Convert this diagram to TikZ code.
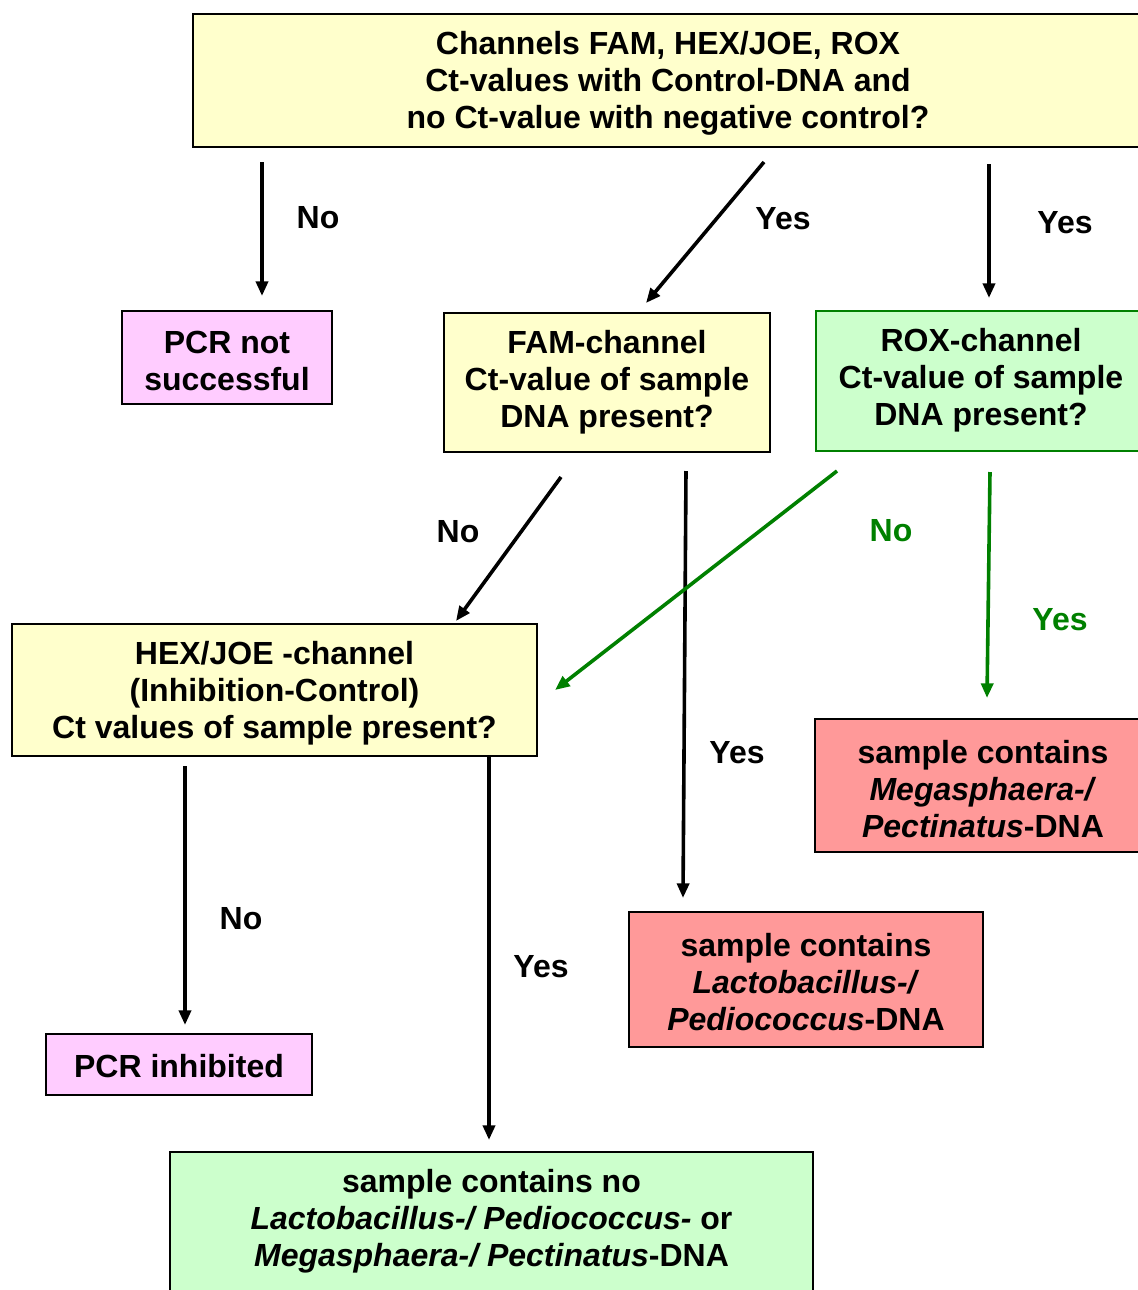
\documentclass[tikz,border=0pt]{standalone}
\usepackage{fontspec}
\setmainfont{Liberation Sans}
\usetikzlibrary{arrows.meta}
\definecolor{ylw}{HTML}{FFFFCC}
\definecolor{pnk}{HTML}{FFCCFF}
\definecolor{grn}{HTML}{CCFFCC}
\definecolor{red}{HTML}{FF9999}
\definecolor{dgreen}{HTML}{008000}
\tikzset{
  box/.style={draw=black, line width=1.5, inner sep=0pt, rectangle},
  txt/.style={align=center, inner sep=0pt, font=\fontsize{24pt}{27.75pt}\selectfont\bfseries},
  arr/.style={line width=2.7, -{Triangle[length=11pt,width=9pt]}},
  garr/.style={arr, draw=dgreen, -{Triangle[length=11pt,width=9pt,fill=dgreen]}},
  lbl/.style={txt},
  glbl/.style={txt, text=dgreen}
}
\begin{document}
\begin{tikzpicture}[x=0.75pt,y=-0.75pt]
\useasboundingbox (0,0) rectangle (1138,1290);
\clip (0,0) rectangle (1138,1290);
% boxes
\node[box, fill=ylw, minimum width=950*0.75pt, minimum height=133*0.75pt] (top) at (668,80.5) {};
\node[txt] (topT) at (668,83) {Channels FAM, HEX/JOE, ROX\\Ct-values with Control-DNA and\\no Ct-value with negative control?};
\node[box, fill=pnk, minimum width=210*0.75pt, minimum height=93*0.75pt] (pns) at (227,357.5) {};
\node[txt] (pnsT) at (227,361) {PCR not\\successful};
\node[box, fill=ylw, minimum width=326*0.75pt, minimum height=139*0.75pt] (fam) at (607,382.5) {};
\node[txt] (famT) at (607,382) {FAM-channel\\Ct-value of sample\\DNA present?};
\node[box, draw=dgreen, fill=grn, minimum width=330*0.75pt, minimum height=140*0.75pt] (rox) at (981,381) {};
\node[txt] (roxT) at (981,380) {ROX-channel\\Ct-value of sample\\DNA present?};
\node[box, fill=ylw, minimum width=525*0.75pt, minimum height=132*0.75pt] (hex) at (274.5,690) {};
\node[txt] (hexT) at (274.5,693) {HEX/JOE -channel\\(Inhibition-Control)\\Ct values of sample present?};
\node[box, fill=red, minimum width=336*0.75pt, minimum height=133*0.75pt] (mega) at (983,785.5) {};
\node[txt] (megaT) at (983,789) {sample contains\\\textit{Megasphaera-/}\\\textit{Pectinatus}-DNA};
\node[box, fill=red, minimum width=354*0.75pt, minimum height=135*0.75pt] (lacto) at (806,979.5) {};
\node[txt] (lactoT) at (806,982) {sample contains\\\textit{Lactobacillus-/}\\\textit{Pediococcus}-DNA};
\node[box, fill=pnk, minimum width=266*0.75pt, minimum height=61*0.75pt] (inh) at (179,1064.5) {};
\node[txt] (inhT) at (179,1066) {PCR inhibited};
\node[box, fill=grn, minimum width=643*0.75pt, minimum height=160*0.75pt] (bot) at (491.5,1232) {};
\node[txt] (botT) at (491.5,1221) {sample contains no\\\textit{Lactobacillus-/ Pediococcus-} or\\\textit{Megasphaera-/ Pectinatus}-DNA};
% connector end points
\coordinate (a1) at (262,162); \coordinate (b1) at (262,296);
\coordinate (a2) at (764,162); \coordinate (b2) at (646,303);
\coordinate (a3) at (989,164); \coordinate (b3) at (989,298);
\coordinate (a4) at (561,477); \coordinate (b4) at (456,621);
\coordinate (a5) at (686,471); \coordinate (b5) at (683,898);
\coordinate (a6) at (837,471); \coordinate (b6) at (555,690);
\coordinate (a7) at (990,472); \coordinate (b7) at (987,698);
\coordinate (a8) at (185,766); \coordinate (b8) at (185,1025);
\coordinate (a9) at (489,757); \coordinate (b9) at (489,1140);
\draw[arr] (a1) -- (b1);
\draw[arr] (a2) -- (b2);
\draw[arr] (a3) -- (b3);
\draw[arr] (a4) -- (b4);
\draw[arr] (a5) -- (b5);
\draw[garr] (a6) -- (b6);
\draw[garr] (a7) -- (b7);
\draw[arr] (a8) -- (b8);
\draw[arr] (a9) -- (b9);
% labels
\node[lbl] (l1) at (318,218) {No};
\node[lbl] (l2) at (783,219) {Yes};
\node[lbl] (l3) at (1065,223) {Yes};
\node[lbl] (l4) at (458,532) {No};
\node[lbl] (l5) at (737,753) {Yes};
\node[glbl] (l6) at (891,531) {No};
\node[glbl] (l7) at (1060,620) {Yes};
\node[lbl] (l8) at (241,919) {No};
\node[lbl] (l9) at (541,967) {Yes};
\end{tikzpicture}
\end{document}
